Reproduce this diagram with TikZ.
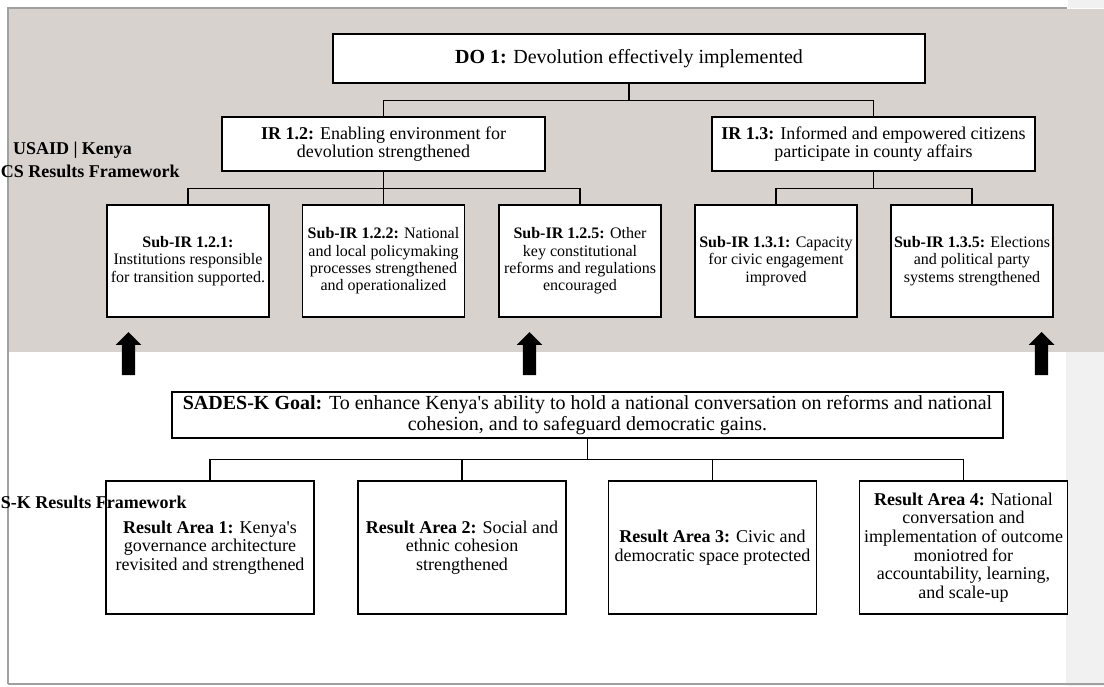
\documentclass[tikz,border=0pt]{standalone}
\usepackage{fontspec}
\setmainfont{Liberation Serif}
\usepackage{tikz}
\usetikzlibrary{positioning}
\usetikzlibrary{shapes.arrows}
\definecolor{tanbg}{RGB}{216,210,207}
\definecolor{sidebar}{RGB}{241,241,241}
\definecolor{pageline}{RGB}{160,160,160}
\tikzstyle{dobox}=[draw,fill=white,line width=1pt,inner sep=0pt,align=center,minimum width=444pt,minimum height=36.75pt,font=\fontsize{15}{16}\selectfont]
\tikzstyle{irbox}=[draw,fill=white,line width=1pt,inner sep=0pt,align=center,minimum width=242.25pt,minimum height=40.5pt,font=\fontsize{13.5}{13.75}\selectfont]
\tikzstyle{subbox}=[draw,fill=white,line width=1pt,inner sep=0pt,align=center,minimum width=121.5pt,minimum height=84pt,font=\fontsize{12}{13}\selectfont]
\tikzstyle{goalbox}=[draw,fill=white,line width=1pt,inner sep=0pt,align=center,minimum width=623.25pt,minimum height=34.5pt,font=\fontsize{15}{16.25}\selectfont]
\tikzstyle{areabox}=[draw,fill=white,line width=1pt,inner sep=0pt,align=center,minimum width=156pt,minimum height=99.75pt,font=\fontsize{13.5}{14}\selectfont]
\tikzstyle{tree} = [draw,line width=1.1pt]
\tikzstyle{uparrow} = [single arrow,fill=black,rotate=90,minimum height=32.25pt,minimum width=18.8pt,inner xsep=0pt,inner ysep=4.7pt,single arrow head extend=4.7pt,single arrow head indent=0pt,outer sep=0pt]
\tikzstyle{sidelabel} = [font=\bfseries\fontsize{13.5}{14}\selectfont,inner sep=0pt]

\begin{document}
\begin{tikzpicture}[x=0.75pt,y=-0.75pt]
    \useasboundingbox (0,0) rectangle (1104,686);
    % page background, shaded band and margin
    \fill[white] (0,0) rectangle (1104,686);
    \fill[tanbg] (9,9) rectangle (1104,352);
    \fill[sidebar] (1066,352) rectangle (1104,686);
    \fill[sidebar] (1068,0) rectangle (1104,8);
    \draw[pageline,line width=0.8pt] (8,684) -- (8,8) -- (1067,8);
    \draw[pageline,line width=1.2pt] (8,684) -- (1104,684);

    % First the USAID results framework
    \node[dobox] (do1) at (629,58.5) {\textbf{DO 1:} Devolution effectively implemented};
    \node[irbox] (ir12) at (383.5,144) {\textbf{IR 1.2:} Enabling environment for\\devolution strengthened};
    \node[irbox] (ir13) at (873.5,144) {\textbf{IR 1.3:} Informed and empowered citizens\\participate in county affairs};
    \foreach \pos/\name/\txt in {{(188,261)/s121/{\textbf{Sub-IR 1.2.1:}\\Institutions responsible\\for transition supported.}},
    {(383.5,261)/s122/{\textbf{Sub-IR 1.2.2:} National\\and local policymaking\\processes strengthened\\and operationalized}},
    {(580,261)/s125/{\textbf{Sub-IR 1.2.5:} Other\\key constitutional\\reforms and regulations\\encouraged}},
    {(776,261)/s131/{\textbf{Sub-IR 1.3.1:} Capacity\\for civic engagement\\improved}},
    {(972,261)/s135/{\textbf{Sub-IR 1.3.5:} Elections\\and political party\\systems strengthened}}}
        \node[subbox] (\name) at \pos {\txt};

    % Then the SADES-K results framework
    \node[goalbox] (goal) at (587.5,415) {\textbf{SADES-K Goal:} To enhance Kenya\textquotesingle s ability to hold a national conversation on reforms and national\\cohesion, and to safeguard democratic gains.};
    \foreach \pos/\name/\txt in {{(210,547.5)/ra1/{\textbf{Result Area 1:} Kenya\textquotesingle s\\governance architecture\\revisited and strengthened}},
    {(462,547.5)/ra2/{\textbf{Result Area 2:} Social and\\ethnic cohesion\\strengthened}},
    {(712.5,547.5)/ra3/{\textbf{Result Area 3:} Civic and\\democratic space protected}},
    {(963.5,547.5)/ra4/{\textbf{Result Area 4:} National\\conversation and\\implementation of outcome\\moniotred for\\accountability, learning,\\and scale-up}}}
        \node[areabox] (\name) at \pos {\txt};

    % Connect the boxes
    \foreach \source/\dest/\drop in {do1/ir12/17, do1/ir13/17, ir12/s121/17, ir12/s122/17, ir12/s125/17, ir13/s131/17, ir13/s135/17,
    goal/ra1/21, goal/ra2/21, goal/ra3/21, goal/ra4/21}
        \path[tree] (\source.south) -- ++(0,\drop) -| (\dest.north);

    % block arrows between the two frameworks
    \foreach \x/\name in {128.5/up1, 529.5/up2, 1041.5/up3}
        \node[uparrow,anchor=tip] (\name) at (\x,332) {};

    % side labels
    \node[sidelabel] (usaid) at (72.5,150) {USAID | Kenya};
    \node[sidelabel,anchor=west] (cdcs) at (0.5,171) {CS Results Framework};
    \node[sidelabel,anchor=west] (sadesk) at (0.5,502) {S-K Results Framework};
\end{tikzpicture}
\end{document}
